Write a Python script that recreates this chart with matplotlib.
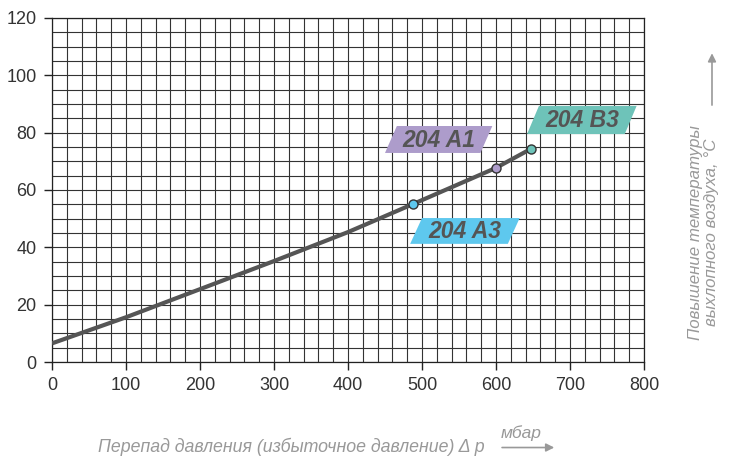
import matplotlib.pyplot as plt
from matplotlib.patches import Polygon

# характеристика: перепад давления (мбар) -> повышение температуры (°C)
dp = [0, 100, 200, 300, 400, 488, 600, 647]
dt = [6.5, 15.6, 25.4, 35.2, 45.3, 55.1, 67.7, 74.3]

# рабочие точки компрессоров
pt_names = ["204 A3", "204 A1", "204 B3"]
pt_dp = [488, 600, 647]
pt_dt = [55.1, 67.7, 74.3]
pt_colors = ["#5ec8ee", "#ad9ccb", "#6ec3b9"]

plt.rcParams['font.family'] = ['Liberation Sans', 'DejaVu Sans']

fig = plt.figure(figsize=(7.31, 4.59), dpi=100)
ax = fig.add_axes([0.0711, 0.2113, 0.8099, 0.7497])

ax.set_xlim(0, 800)
ax.set_ylim(0, 120)
ax.set_xticks(range(0, 801, 100))
ax.set_yticks(range(0, 121, 20))
ax.set_xticks(range(0, 801, 20), minor=True)
ax.set_yticks(range(0, 121, 5), minor=True)
ax.grid(which='both', color='#333333', linewidth=0.8)
ax.set_axisbelow(True)
ax.tick_params(which='major', direction='out', length=6, width=1, color='#222222',
               labelsize=13, labelcolor='#333333', pad=5)
ax.tick_params(which='minor', length=0)
for s in ax.spines.values():
    s.set_color('#222222')
    s.set_linewidth(0.9)

ax.plot(dp, dt, color='#555555', linewidth=3, solid_capstyle='butt', zorder=3)
for x, y, c in zip(pt_dp, pt_dt, pt_colors):
    ax.plot(x, y, 'o', markersize=6.5, markerfacecolor=c, markeredgecolor='#333333',
            markeredgewidth=1, zorder=4)

# подписи в косых плашках
boxes = [(484, 632, 41.2, 50.2), (450, 595, 72.9, 82.3), (642, 790, 79.5, 89.3)]
skew = 16
for name, c, (x0, x1, y0, y1) in zip(pt_names, pt_colors, boxes):
    poly = Polygon([(x0, y0), (x1 - skew, y0), (x1, y1), (x0 + skew, y1)],
                   closed=True, facecolor=c, edgecolor='none', zorder=5, clip_on=False)
    ax.add_patch(poly)
    ax.text((x0 + x1) / 2, (y0 + y1) / 2 - 0.3, name, ha='center', va='center',
            fontsize=16.5, fontweight='bold', fontstyle='italic', color='#555555', zorder=6)

# подписи осей со стрелками
fig.text(0.663, 0.006, "Перепад давления (избыточное давление) Δ p", ha='right', va='bottom',
         fontsize=12.8, fontstyle='italic', color='#999999')
fig.text(0.713, 0.040, "мбар", ha='center', va='bottom',
         fontsize=12.5, fontstyle='italic', color='#999999')
fig.add_artist(plt.Annotation('', xy=(0.762, 0.025), xytext=(0.683, 0.025),
                              xycoords='figure fraction',
                              arrowprops=dict(arrowstyle='-|>', color='#999999', lw=1.2,
                                              mutation_scale=12)))

fig.text(0.962, 0.494, "Повышение температуры\nвыхлопного воздуха, °C", ha='center', va='center',
         rotation=90, fontsize=12.2, fontstyle='italic', color='#999999', linespacing=1.05)
fig.add_artist(plt.Annotation('', xy=(0.974, 0.89), xytext=(0.974, 0.765),
                              xycoords='figure fraction',
                              arrowprops=dict(arrowstyle='-|>', color='#999999', lw=1.2,
                                              mutation_scale=12)))

fig.savefig("out.png", dpi=100)
